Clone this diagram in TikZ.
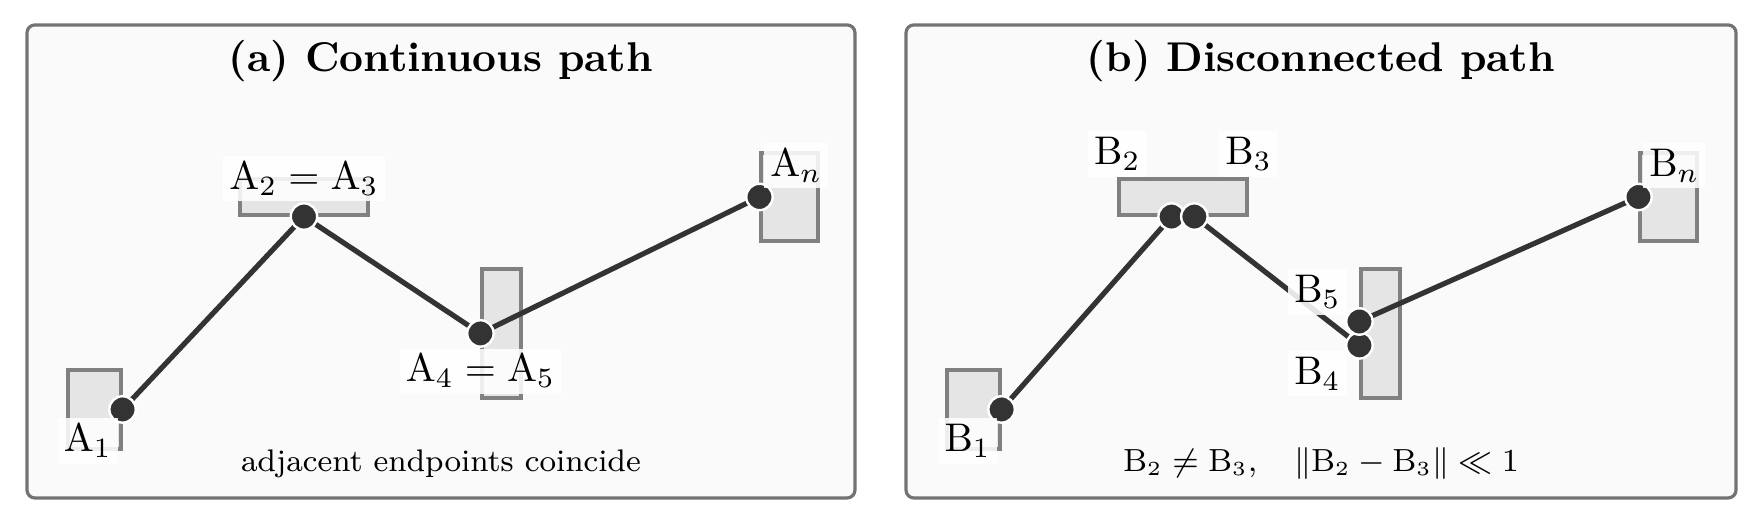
\documentclass[tikz,border=0pt]{standalone}
\usepackage{amssymb}
\usepackage{tikz}
\usetikzlibrary{positioning}
\tikzset{panelbox/.style={draw=black!55, fill=black!2, thick, rounded corners=2pt},
titlenode/.style={font=\fontsize{10.4}{12}\selectfont\bfseries},
notenode/.style={font=\fontsize{7.8}{9.5}\selectfont},
cellbox/.style={draw=black!50, fill=black!10, thick, inner sep=0pt},
dotnode/.style={circle, fill=black!80, draw=white, line width=0.6pt, inner sep=0pt, minimum size=6.6pt},
lblnode/.style={fill=white, fill opacity=0.87, text opacity=1, inner sep=1.5pt},
pathline/.style={draw=black!80, line width=1.3pt},}

\begin{document}
\begin{tikzpicture}
\useasboundingbox (0,0) rectangle (15.483,4.613);
% (a) continuous
\draw[panelbox] (0.237,0.237) rectangle (7.513,4.394);
\node[titlenode] (ta) at (3.875,4.077) {(a) Continuous path};
\node[notenode] (ca) at (3.875,0.536) {adjacent endpoints coincide};
\node[cellbox, minimum width=0.466cm, minimum height=0.694cm] (a1cell) at (0.830,1.015) {};
\node[cellbox, minimum width=1.125cm, minimum height=0.316cm] (a2cell) at (2.671,2.882) {};
\node[cellbox, minimum width=0.343cm, minimum height=1.134cm] (a4cell) at (4.407,1.683) {};
\node[cellbox, minimum width=0.501cm, minimum height=0.773cm] (ancell) at (6.938,2.882) {};
\coordinate (a1) at (a1cell.east);
\coordinate (a2) at (a2cell.south);
\coordinate (a4) at (a4cell.west);
\coordinate (an) at (ancell.west);
\draw[pathline] (a1) -- (a2) -- (a4) -- (an);
\node[dotnode] (A1) at (a1) {};
\node[dotnode] (A2) at (a2) {};
\node[dotnode] (A4) at (a4) {};
\node[dotnode] (An) at (an) {};
\node[lblnode, below left=2pt and 1pt of A1.center] {$\mathrm{A}_1$};
\node[lblnode, above=0pt of A2] {$\mathrm{A}_2 = \mathrm{A}_3$};
\node[lblnode, below=0pt of A4] {$\mathrm{A}_4 = \mathrm{A}_5$};
\node[lblnode, above right=2pt and 1pt of An.center] {$\mathrm{A}_n$};

% (b) disconnected
\begin{scope}[xshift=7.724cm]
\draw[panelbox] (0.237,0.237) rectangle (7.531,4.394);
\node[titlenode] (tb) at (3.884,4.077) {(b) Disconnected path};
\node[notenode] (cb) at (3.884,0.536) {$\mathrm{B}_2 \neq \mathrm{B}_3, \quad \|\mathrm{B}_2 - \mathrm{B}_3\| \ll 1$};
\node[cellbox, minimum width=0.466cm, minimum height=0.694cm] (b1cell) at (0.830,1.015) {};
\node[cellbox, minimum width=1.125cm, minimum height=0.316cm] (b2cell) at (2.671,2.882) {};
\node[cellbox, minimum width=0.343cm, minimum height=1.134cm] (b4cell) at (4.407,1.683) {};
\node[cellbox, minimum width=0.501cm, minimum height=0.773cm] (bncell) at (6.938,2.882) {};
\coordinate (b1) at (b1cell.east);
\coordinate (b2) at ([xshift=-0.1cm]b2cell.south);
\coordinate (b3) at ([xshift=0.1cm]b2cell.south);
\coordinate (b4) at ([yshift=-0.105cm]b4cell.west);
\coordinate (b5) at ([yshift=0.105cm]b4cell.west);
\coordinate (bn) at (bncell.west);
\draw[pathline] (b1) -- (b2);
\draw[pathline] (b3) -- (b4);
\draw[pathline] (b5) -- (bn);
\node[dotnode] (B1) at (b1) {};
\node[dotnode] (B2) at (b2) {};
\node[dotnode] (B3) at (b3) {};
\node[dotnode] (B4) at (b4) {};
\node[dotnode] (B5) at (b5) {};
\node[dotnode] (Bn) at (bn) {};
\node[lblnode, below left=2pt and 1pt of B1.center] {$\mathrm{B}_1$};
\node[lblnode, above=0pt of b2cell.north west] {$\mathrm{B}_2$};
\node[lblnode, above=0pt of b2cell.north east] {$\mathrm{B}_3$};
\node[lblnode, above left=1.5pt and 3pt of B5.center] {$\mathrm{B}_5$};
\node[lblnode, below left=1.2pt and 3pt of B4.center] {$\mathrm{B}_4$};
\node[lblnode, above right=2pt and 1pt of Bn.center] {$\mathrm{B}_n$};
\end{scope}
\end{tikzpicture}
\end{document}
